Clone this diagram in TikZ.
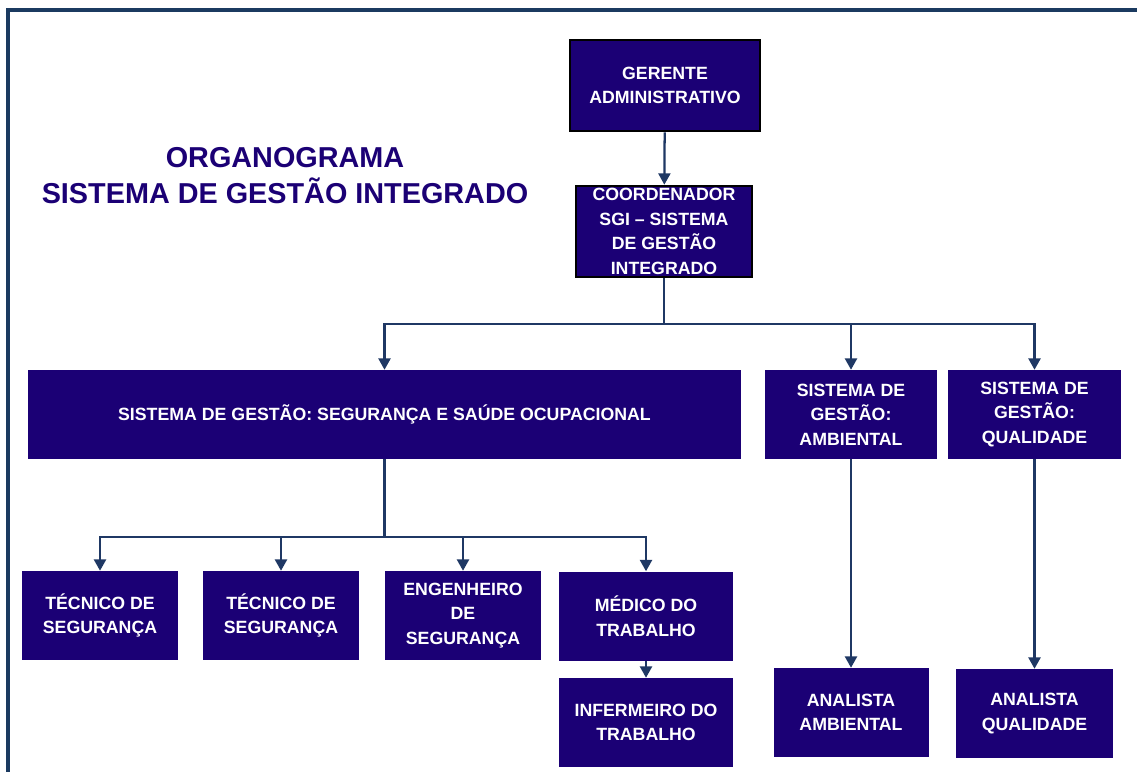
\documentclass[tikz,border=0pt]{standalone}
\usepackage{fontspec}
\setmainfont{Liberation Sans}
\usetikzlibrary{positioning,arrows.meta}
\definecolor{indigo}{RGB}{27,0,117}
\definecolor{wire}{RGB}{31,56,100}
\definecolor{frame}{RGB}{27,58,96}
\tikzset{
  unit/.style={fill=indigo, draw=none, align=center, inner sep=0pt, text=white,
               font=\bfseries\fontsize{13.3}{18.4}\selectfont, minimum height=66.75pt},
  head/.style={unit, draw=black, line width=2pt, minimum height=68.25pt},
  arr/.style={-{Triangle[length=8.5pt,width=9pt]}, line width=1.7pt, draw=wire},
  wire/.style={line width=1.7pt, draw=wire},
  ttl/.style={align=center, text=indigo, font=\bfseries\fontsize{21.6}{27}\selectfont},
}

\begin{document}
\begin{tikzpicture}[x=0.75pt, y=-0.75pt]
  \clip (0,0) rectangle (1137,771);
  \draw[frame, line width=3pt] (8,10) rectangle (1160,800);

  \node[ttl] (title) at (285,176) {ORGANOGRAMA\\SISTEMA DE GESTÃO INTEGRADO};

  \node[head, minimum width=142.5pt] (ger) at (665,85.5) {GERENTE\\ADMINISTRATIVO};
  \node[head, minimum width=132pt] (coord) at (664,231.5)
    {COORDENADOR\\SGI -- SISTEMA\\DE GESTÃO\\INTEGRADO};

  \node[unit, minimum width=534.75pt] (sso) at (384.5,414.5)
    {SISTEMA DE GESTÃO: SEGURANÇA E SAÚDE OCUPACIONAL};
  \node[unit, minimum width=129pt] (amb) at (851,414.5) {SISTEMA DE\\GESTÃO:\\AMBIENTAL};
  \node[unit, minimum width=129.75pt] (qual) at (1034.5,414.5) {SISTEMA DE\\GESTÃO:\\QUALIDADE};

  \node[unit, minimum width=117pt] (tec1) at (100,615.5) {TÉCNICO DE\\SEGURANÇA};
  \node[unit, minimum width=117pt] (tec2) at (281,615.5) {TÉCNICO DE\\SEGURANÇA};
  \node[unit, minimum width=117pt] (eng) at (463,615.5) {ENGENHEIRO\\DE\\SEGURANÇA};
  \node[unit, minimum width=130.5pt] (med) at (646,616) {MÉDICO DO\\TRABALHO};
  \node[unit, minimum width=130.5pt] (inf) at (646,722.5) {INFERMEIRO DO\\TRABALHO};

  \node[unit, minimum width=116.25pt] (anamb) at (851,712.5) {ANALISTA\\AMBIENTAL};
  \node[unit, minimum width=117.75pt] (anqual) at (1034.5,713.5) {ANALISTA\\QUALIDADE};

  % upper levels
  \draw[arr] (ger) -- (coord);
  \draw[wire] (coord.south) -- ++(0,46) coordinate (j1);
  \draw[arr] (j1) -| (sso.north);
  \draw[arr] (j1) -| (amb.north);
  \draw[arr] (j1) -| (qual.north);

  % SSO team
  \draw[wire] (sso.south) -- ++(0,78) coordinate (j2);
  \draw[arr] (j2) -| (tec1.north);
  \draw[arr] (j2) -| (tec2.north);
  \draw[arr] (j2) -| (eng.north);
  \draw[arr] (j2) -| (med.north);
  \draw[arr] (med) -- (inf);

  \draw[arr] (amb) -- (anamb);
  \draw[arr] (qual) -- (anqual);
\end{tikzpicture}
\end{document}
